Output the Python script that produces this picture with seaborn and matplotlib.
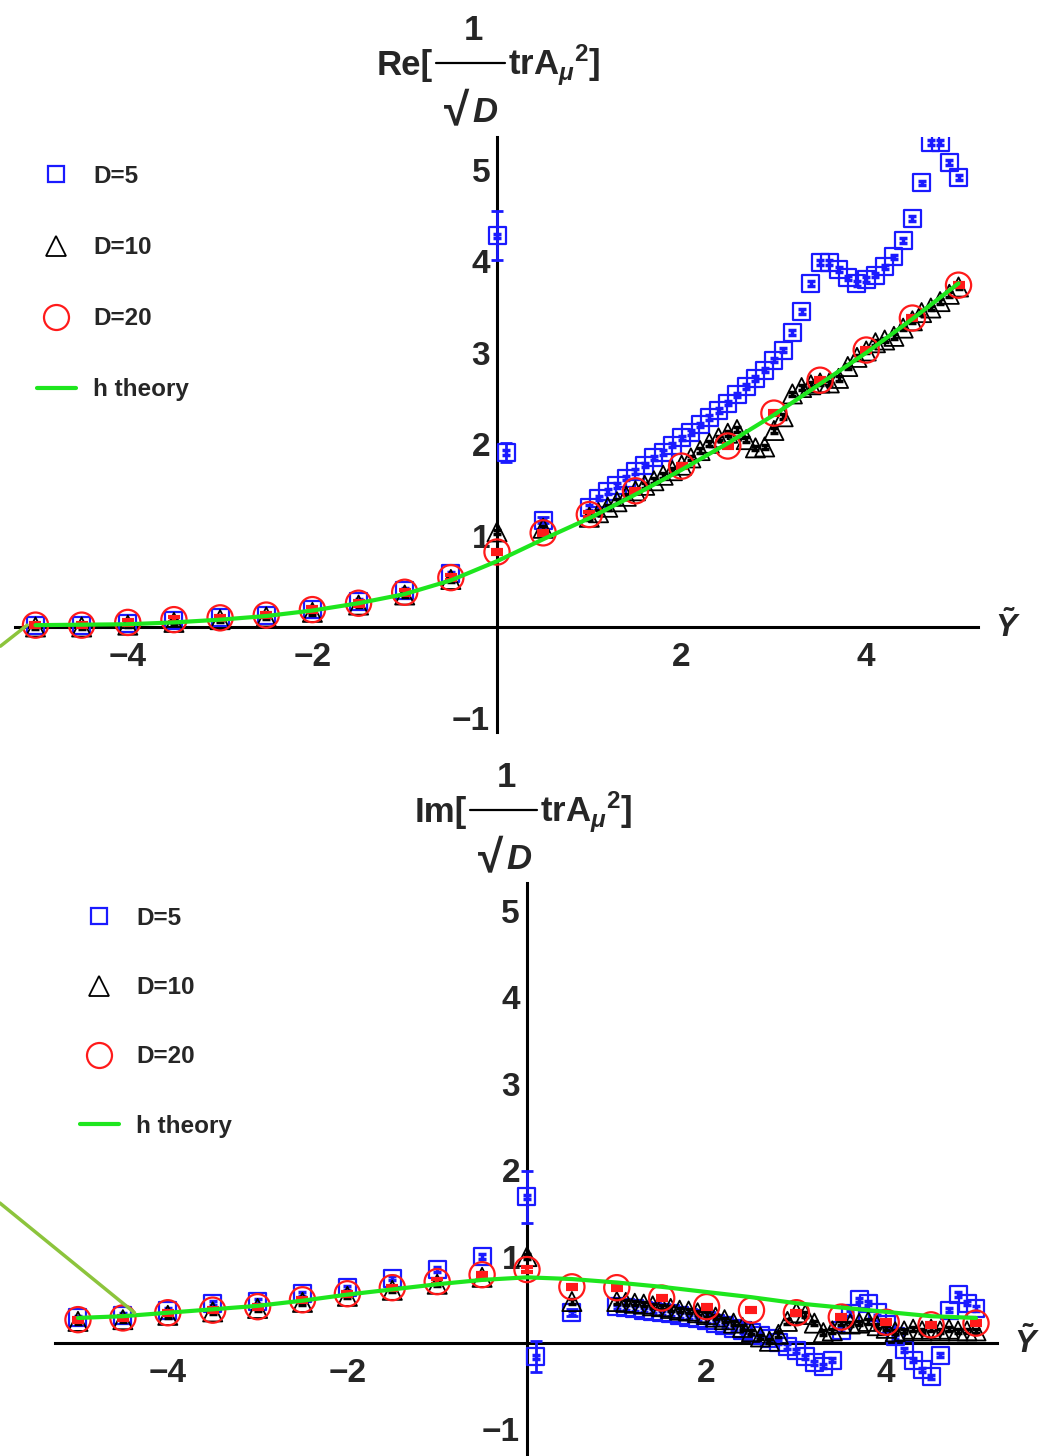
import numpy as np
import pandas as pd
import matplotlib
matplotlib.use("Agg")
import matplotlib.pyplot as plt
import seaborn as sns
from matplotlib.lines import Line2D
from matplotlib.ticker import FixedLocator, MultipleLocator

# ---------------- data ----------------
coarse_left_x = [-5, -4.5, -4, -3.5, -3, -2.5, -2, -1.5, -1, -0.5]
dense_x = [1.0, 1.1, 1.2, 1.3, 1.4, 1.5, 1.6, 1.7, 1.8, 1.9, 2.0, 2.1, 2.2, 2.3,
           2.4, 2.5, 2.6, 2.7, 2.8, 2.9, 3.0, 3.1, 3.2, 3.3, 3.4, 3.5, 3.6, 3.7,
           3.8, 3.9, 4.0, 4.1, 4.2, 4.3, 4.4, 4.5, 4.6, 4.7, 4.8, 4.9, 5.0]
d20_x = [-5, -4.5, -4, -3.5, -3, -2.5, -2, -1.5, -1, -0.5, 0, 0.5,
         1, 1.5, 2, 2.5, 3, 3.5, 4, 4.5, 5]
theory_x = [-5, -4.5, -4, -3.5, -3, -2.5, -2, -1.5, -1, -0.5, 0, 0.5,
            1, 1.5, 2, 2.5, 3, 3.5, 4, 4.5, 5]
near0_d5_x = [0, 0.1, 0.5]
near0_d10_x = [0, 0.5]

# Real part
re_d5_left = [0.02, 0.02, 0.04, 0.07, 0.10, 0.13, 0.19, 0.28, 0.40, 0.58]
re_d5_near0 = [4.28, 1.91, 1.17]
re_d5_dense = [1.31, 1.41, 1.48, 1.55, 1.63, 1.70, 1.77, 1.85, 1.91, 1.99, 2.07,
               2.13, 2.21, 2.29, 2.37, 2.45, 2.54, 2.63, 2.72, 2.81, 2.92, 3.03,
               3.22, 3.45, 3.76, 3.99, 3.99, 3.91, 3.82, 3.76, 3.80, 3.85, 3.94,
               4.05, 4.23, 4.47, 4.86, 5.30, 5.30, 5.08, 4.92]
re_d5_err = [0.27, 0.10, 0.03]
re_d10_left = [0.00, 0.00, 0.02, 0.05, 0.08, 0.11, 0.16, 0.24, 0.35, 0.52]
re_d10_near0 = [1.04, 1.08]
re_d10_dense = [1.20, 1.25, 1.31, 1.37, 1.43, 1.49, 1.55, 1.60, 1.66, 1.71, 1.77,
                1.85, 1.93, 2.01, 2.07, 2.12, 2.16, 2.05, 1.96, 1.97, 2.15, 2.30,
                2.55, 2.62, 2.65, 2.67, 2.67, 2.72, 2.85, 2.95, 3.02, 3.11, 3.14,
                3.18, 3.27, 3.35, 3.44, 3.49, 3.56, 3.64, 3.72]
re_d20 = [0.02, 0.02, 0.05, 0.08, 0.10, 0.13, 0.19, 0.26, 0.38, 0.54, 0.82, 1.03,
          1.23, 1.49, 1.76, 1.98, 2.34, 2.70, 3.03, 3.38, 3.74]
re_theory = [0.02, 0.025, 0.03, 0.05, 0.08, 0.12, 0.18, 0.26, 0.36, 0.51, 0.72,
             0.96, 1.19, 1.45, 1.72, 2.01, 2.32, 2.66, 3.00, 3.37, 3.76]
re_branch_x = [-5.38, -5.09]
re_branch_y = [-0.21, 0.02]

# Imaginary part
im_d5_left = [0.29, 0.32, 0.38, 0.46, 0.48, 0.57, 0.64, 0.75, 0.85, 1.00]
im_d5_near0 = [1.69, -0.16, 0.35]
im_d5_dense = [0.42, 0.41, 0.40, 0.38, 0.37, 0.35, 0.34, 0.32, 0.30, 0.28, 0.26,
               0.23, 0.20, 0.17, 0.14, 0.12, 0.09, 0.05, 0.01, -0.04, -0.09,
               -0.16, -0.23, -0.27, -0.20, 0.15, 0.34, 0.50, 0.46, 0.35, 0.21,
               0.07, -0.08, -0.20, -0.31, -0.39, -0.14, 0.38, 0.56, 0.46, 0.40]
im_d5_err = [0.30, 0.18, 0.04]
im_d10_left = [0.25, 0.27, 0.32, 0.36, 0.40, 0.47, 0.54, 0.61, 0.68, 0.76]
im_d10_near0 = [1.00, 0.48]
im_d10_dense = [0.48, 0.47, 0.46, 0.45, 0.43, 0.42, 0.40, 0.38, 0.37, 0.35, 0.33,
                0.30, 0.27, 0.23, 0.18, 0.13, 0.07, 0.02, 0.10, 0.25, 0.35, 0.33,
                0.23, 0.12, 0.14, 0.23, 0.22, 0.23, 0.25, 0.20, 0.17, 0.13, 0.14,
                0.16, 0.14, 0.16, 0.14, 0.16, 0.14, 0.14, 0.14]
im_d20 = [0.27, 0.29, 0.35, 0.38, 0.42, 0.50, 0.57, 0.64, 0.71, 0.79, 0.85, 0.65,
          0.64, 0.52, 0.42, 0.38, 0.35, 0.30, 0.24, 0.21, 0.23]
im_theory = [0.29, 0.31, 0.35, 0.39, 0.43, 0.49, 0.56, 0.62, 0.68, 0.73, 0.76,
             0.74, 0.70, 0.65, 0.59, 0.53, 0.46, 0.41, 0.36, 0.31, 0.29]
im_branch_x = [-5.87, -4.37]
im_branch_y = [1.62, 0.35]

legend_labels = ["D=5", "D=10", "D=20", "h theory"]
title_prefixes = ["Re[", "Im["]

# ---------------- style ----------------
sns.set_theme(style="white")
plt.rcParams["font.family"] = ["Liberation Sans", "DejaVu Sans"]
plt.rcParams["font.weight"] = "bold"
plt.rcParams["mathtext.fontset"] = "custom"
plt.rcParams["mathtext.rm"] = "Liberation Sans:bold"
plt.rcParams["mathtext.bf"] = "Liberation Sans:bold"
plt.rcParams["mathtext.sf"] = "Liberation Sans:bold"
plt.rcParams["mathtext.it"] = "Liberation Sans:italic:bold"

BLUE = "#1a1aff"
RED = "#ff1a1a"
BLACK = "#000000"
GREEN = "#1ee61e"
OLIVE = "#8cc43c"

W, H = 1041, 1456
fig = plt.figure(figsize=(W / 100, H / 100), dpi=100)


def px_axes(left_px, right_px, top_px, bottom_px):
    return fig.add_axes([left_px / W, 1 - bottom_px / H,
                         (right_px - left_px) / W, (bottom_px - top_px) / H])


def ftext(xp, yp, s, **kw):
    fig.text(xp / W, 1 - yp / H, s, **kw)


def draw_title(prefix, bar_l, bar_r, bar_y):
    fs = 25
    ftext(bar_l - 3, bar_y + 12, prefix, ha="right", va="baseline", fontsize=fs)
    fig.add_artist(Line2D([bar_l / W, bar_r / W], [1 - bar_y / H, 1 - bar_y / H],
                          transform=fig.transFigure, color="black", lw=1.6))
    mid = (bar_l + bar_r) / 2 + 3
    ftext(mid, bar_y - 23, "1", ha="center", va="baseline", fontsize=fs)
    ftext(bar_l + 33, bar_y + 61, "\u221a", ha="right", va="baseline", fontsize=33)
    ftext(bar_l + 36, bar_y + 59, "$D$", ha="left", va="baseline", fontsize=fs)
    ftext(bar_r + 3, bar_y + 12, r"$\mathrm{trA}_{\mu}{}^{2}]$", ha="left",
          va="baseline", fontsize=fs)


def draw_panel(ax, d5x, d5y, d5ex, d5e, d10x, d10y, d20y, thy, brx, bry,
               xlim, ylim):
    ax.set_facecolor("none")
    ax.errorbar(d5x, d5y, yerr=0.025, fmt="none", ecolor=BLUE, elinewidth=2.5,
                capsize=3, capthick=2.5, zorder=2)
    ax.errorbar(d5ex, [d5y[len(coarse_left_x) + i] for i in range(len(d5ex))],
                yerr=d5e, fmt="none", ecolor=BLUE, elinewidth=2, capsize=4,
                capthick=2, zorder=2)
    sns.scatterplot(x=d5x, y=d5y, marker="s", s=150, facecolor="none",
                    edgecolor=BLUE, linewidth=1.6, ax=ax, zorder=3)
    ax.errorbar(d10x, d10y, yerr=0.025, fmt="none", ecolor=BLACK, elinewidth=2.5,
                capsize=3, capthick=2.5, zorder=4)
    sns.scatterplot(x=d10x, y=d10y, marker="^", s=190, facecolor="none",
                    edgecolor=BLACK, linewidth=1.3, ax=ax, zorder=5)
    ax.errorbar(d20_x, d20y, yerr=0.025, fmt="none", ecolor=RED, elinewidth=3,
                capsize=4, capthick=3, zorder=6)
    sns.scatterplot(x=d20_x, y=d20y, marker="o", s=330, facecolor="none",
                    edgecolor=RED, linewidth=1.6, ax=ax, zorder=7)
    sns.lineplot(x=theory_x, y=thy, color=GREEN, linewidth=3, ax=ax, zorder=8,
                 sort=False)
    ax.plot(brx, bry, color=OLIVE, linewidth=2.5, clip_on=False, zorder=8)

    ax.set_xlim(*xlim)
    ax.set_ylim(*ylim)
    for s in ["top", "right"]:
        ax.spines[s].set_visible(False)
    for s in ["left", "bottom"]:
        ax.spines[s].set_position(("data", 0))
        ax.spines[s].set_linewidth(2.2)
        ax.spines[s].set_color("black")
        ax.spines[s].set_zorder(1)
    ax.xaxis.set_major_locator(FixedLocator([-4, -2, 2, 4]))
    ax.xaxis.set_minor_locator(MultipleLocator(0.5))
    ax.yaxis.set_major_locator(FixedLocator([-1, 1, 2, 3, 4, 5]))
    ax.yaxis.set_minor_locator(MultipleLocator(0.2))
    ax.tick_params(which="major", direction="in", length=6, width=2,
                   labelsize=24, color="black")
    ax.tick_params(which="minor", direction="in", length=3.5, width=1.8,
                   color="black")
    ax.tick_params(axis="x", which="major", pad=11)
    ax.tick_params(axis="y", which="major", pad=5)
    ax.set_xlabel("")
    ax.set_ylabel("")
    ax.grid(False)
    ax.annotate(r"$\tilde{Y}$", xy=(1, 0), xycoords=("axes fraction", "data"),
                xytext=(12, 0), textcoords="offset points", ha="left",
                va="center", fontsize=23, annotation_clip=False)


def legend_handles():
    return [
        Line2D([], [], marker="s", ls="none", mfc="none", mec=BLUE, ms=12, mew=1.6),
        Line2D([], [], marker="^", ls="none", mfc="none", mec=BLACK, ms=14, mew=1.3),
        Line2D([], [], marker="o", ls="none", mfc="none", mec=RED, ms=18, mew=1.6),
        Line2D([], [], color=GREEN, lw=3),
    ]


# ---- top panel: real part ----
ax1 = px_axes(15, 978, 137, 732)
draw_panel(ax1,
           coarse_left_x + near0_d5_x + dense_x,
           re_d5_left + re_d5_near0 + re_d5_dense,
           near0_d5_x, re_d5_err,
           coarse_left_x + near0_d10_x + dense_x,
           re_d10_left + re_d10_near0 + re_d10_dense,
           re_d20, re_theory, re_branch_x, re_branch_y,
           (-5.222, 5.211), (-1.149, 5.361))
draw_title(title_prefixes[0], 436, 505, 63)

# ---- bottom panel: imaginary part ----
ax2 = px_axes(55, 997, 883, 1456)
draw_panel(ax2,
           coarse_left_x + near0_d5_x + dense_x,
           im_d5_left + im_d5_near0 + im_d5_dense,
           near0_d5_x, im_d5_err,
           coarse_left_x + near0_d10_x + dense_x,
           im_d10_left + im_d10_near0 + im_d10_dense,
           im_d20, im_theory, im_branch_x, im_branch_y,
           (-5.256, 5.234), (-1.308, 5.324))
draw_title(title_prefixes[1], 470, 537, 810)

for (lx, ly, sp) in [(37, 165, 1.98), (80, 907, 1.9)]:
    fig.legend(legend_handles(), legend_labels, loc="upper left",
               bbox_to_anchor=(lx / W, 1 - ly / H), bbox_transform=fig.transFigure,
               frameon=False, fontsize=17.5, labelspacing=sp, handlelength=1.6,
               handletextpad=0.7, borderpad=0, borderaxespad=0)

fig.savefig("out.png", dpi=100)
